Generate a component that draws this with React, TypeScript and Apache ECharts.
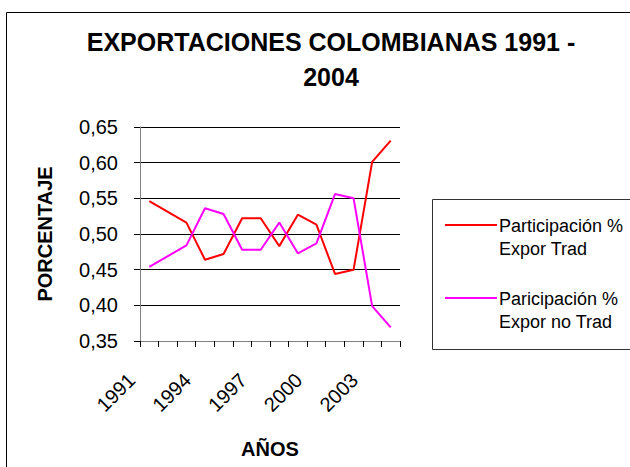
import React, { useEffect, useRef } from "react";
import * as echarts from "echarts";

const years = ["1991","1992","1993","1994","1995","1996","1997","1998","1999","2000","2001","2002","2003","2004"];
const exporTrad = [0.546, 0.531, 0.516, 0.464, 0.472, 0.522, 0.522, 0.483, 0.527, 0.513, 0.444, 0.450, 0.601, 0.631];
const exporNoTrad = [0.454, 0.469, 0.484, 0.536, 0.528, 0.478, 0.478, 0.516, 0.473, 0.487, 0.556, 0.550, 0.399, 0.369];
const seriesNames = ["Participación % Expor Trad", "Paricipación % Expor no Trad"];
const legendLines = [["Participación %", "Expor Trad"], ["Paricipación %", "Expor no Trad"]];
const colors = ["#FF0000", "#FF00FF"];
const titleText = "EXPORTACIONES COLOMBIANAS 1991 -\n2004";

const FONT = "'Liberation Sans', Arial, sans-serif";

export default function App() {
  const ref = useRef<HTMLDivElement>(null);
  useEffect(() => {
    if (!ref.current) return;
    const chart = echarts.init(ref.current, null, { renderer: "svg" });
    const legendGraphics: any[] = [];
    const legendY = [225, 298];
    legendLines.forEach((lines, i) => {
      legendGraphics.push({
        type: "line",
        shape: { x1: 445, y1: legendY[i], x2: 497, y2: legendY[i] },
        style: { stroke: colors[i], lineWidth: 2 },
      });
      lines.forEach((t, j) => {
        legendGraphics.push({
          type: "text",
          x: 499,
          y: legendY[i] + 1 + j * 23,
          style: { text: t, font: `18px ${FONT}`, fill: "#000", textVerticalAlign: "middle", textAlign: "left" },
        });
      });
    });
    chart.setOption({
      animation: false,
      backgroundColor: "#fff",
      textStyle: { fontFamily: FONT },
      title: {
        text: titleText,
        left: 326,
        top: 19,
        textAlign: "center",
        textStyle: { fontSize: 25, fontWeight: "bold", color: "#000", lineHeight: 35, fontFamily: FONT },
      },
      grid: { left: 140, top: 127, right: 230, bottom: 126, containLabel: false },
      xAxis: {
        type: "category",
        data: years,
        boundaryGap: true,
        name: "AÑOS",
        nameLocation: "middle",
        nameGap: 98,
        nameTextStyle: { fontSize: 20, fontWeight: "bold", color: "#000", fontFamily: FONT },
        axisLine: { show: true, lineStyle: { color: "#808080", width: 1 } },
        axisTick: { show: true, interval: 0, length: 6, inside: false, lineStyle: { color: "#000" } },
        axisLabel: {
          interval: 2,
          rotate: 45,
          margin: 18,
          padding: [0, 25, 0, 0],
          fontSize: 20,
          color: "#000",
          fontFamily: FONT,
        },
        splitLine: { show: false },
      },
      yAxis: {
        type: "value",
        min: 0.35,
        max: 0.65,
        interval: 0.05,
        name: "PORCENTAJE",
        nameLocation: "middle",
        nameRotate: 90,
        nameGap: 85,
        nameTextStyle: { fontSize: 20, fontWeight: "bold", color: "#000", fontFamily: FONT },
        axisLine: { show: true, lineStyle: { color: "#808080", width: 1 } },
        axisTick: { show: true, length: 6, inside: false, lineStyle: { color: "#000" } },
        axisLabel: {
          margin: 22,
          fontSize: 20,
          color: "#000",
          fontFamily: FONT,
          formatter: (v: number) => v.toFixed(2).replace(".", ","),
        },
        splitLine: { show: true, lineStyle: { color: "#000", width: 1 } },
      },
      series: [
        {
          name: seriesNames[0],
          type: "line",
          data: exporTrad,
          symbol: "none",
          lineStyle: { color: colors[0], width: 2 },
          itemStyle: { color: colors[0] },
        },
        {
          name: seriesNames[1],
          type: "line",
          data: exporNoTrad,
          symbol: "none",
          lineStyle: { color: colors[1], width: 2 },
          itemStyle: { color: colors[1] },
        },
      ],
      graphic: [
        {
          type: "rect",
          shape: { x: 6.5, y: 12.5, width: 700, height: 500 },
          style: { fill: "none", stroke: "#000", lineWidth: 1 },
          silent: true,
          z: -10,
        },
        {
          type: "rect",
          shape: { x: 432.5, y: 199.5, width: 300, height: 150 },
          style: { fill: "none", stroke: "#333", lineWidth: 1 },
          silent: true,
        },
        ...legendGraphics,
      ],
    });
    return () => chart.dispose();
  }, []);
  return <div ref={ref} style={{ position: "fixed", left: 0, top: 0, width: 630, height: 467 }} />;
}
